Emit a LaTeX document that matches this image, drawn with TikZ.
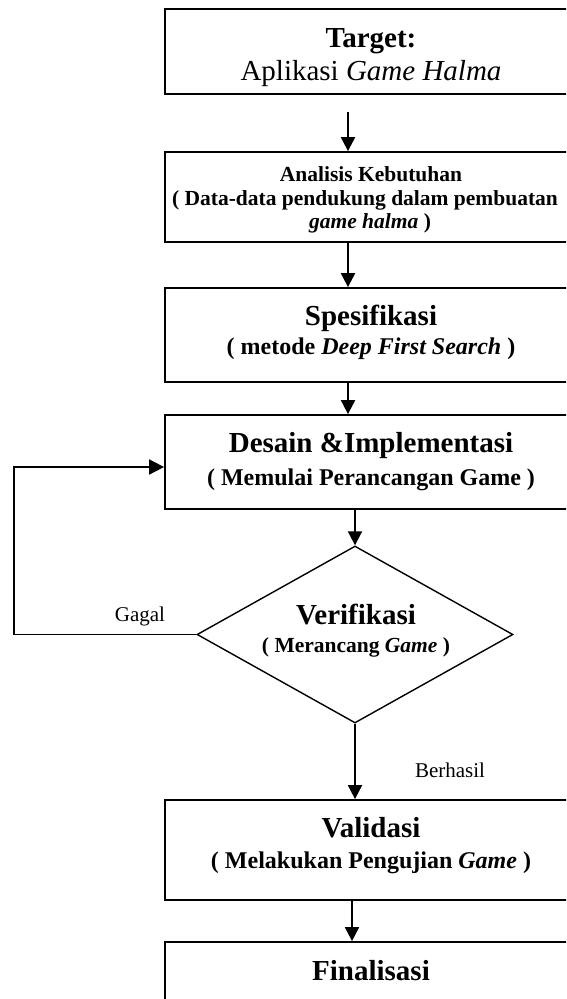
\documentclass[tikz,border=0pt]{standalone}
\usepackage{fontspec}
\setmainfont{Liberation Serif}
\usetikzlibrary{arrows.meta,shapes.geometric}
\begin{document}
\begin{tikzpicture}[x=1pt,y=-1pt,
  boxnode/.style={draw,line width=1.8pt,rectangle,minimum width=412pt,inner sep=0pt},
  dianode/.style={draw,line width=1.4pt,diamond,inner sep=0pt,minimum width=316pt,minimum height=177pt},
  arr/.style={line width=2pt,-{Triangle[length=14pt,width=14pt]}},
  looparr/.style={line width=1.8pt,-{Triangle[length=15pt,width=15pt]}},
  big/.style={anchor=base,font=\fontsize{29}{33}\selectfont\bfseries},
  bigreg/.style={anchor=base,font=\fontsize{29}{33}\selectfont},
  mid/.style={anchor=base,font=\fontsize{24}{28}\selectfont\bfseries},
  small/.style={anchor=base,font=\fontsize{21.5}{24}\selectfont\bfseries},
  lbl/.style={anchor=base,font=\fontsize{21}{24}\selectfont}
]
\useasboundingbox (0,0) rectangle (566,999);
\clip (0,0) rectangle (566,999);

% boxes
\node[boxnode,minimum height=85pt] (b1) at (371,51.5) {};
\node[boxnode,minimum height=90pt] (b2) at (371,197) {};
\node[boxnode,minimum height=94pt] (b3) at (371,335) {};
\node[boxnode,minimum height=94pt] (b4) at (371,462) {};
\node[dianode] (dia) at (355,634.5) {};
\node[boxnode,minimum height=100pt] (b5) at (371,850) {};
\node[boxnode,minimum height=80pt] (b6) at (371,982) {};

% texts
\node[big] (t1a) at (371,47) {Target:};
\node[bigreg] (t1b) at (371,80) {Aplikasi \textit{Game Halma}};
\node[small] (t2a) at (371,181) {Analisis Kebutuhan};
\node[small] (t2b) at (365,205) {( Data-data pendukung dalam pembuatan};
\node[small] (t2c) at (370,228) {\textit{game halma} )};
\node[big] (t3a) at (371,325) {Spesifikasi};
\node[mid] (t3b) at (371,354) {( metode \textit{Deep First Search} )};
\node[big] (t4a) at (371,452) {Desain \&Implementasi};
\node[mid] (t4b) at (371,485) {( Memulai Perancangan Game )};
\node[big] (t5a) at (356,624) {Verifikasi};
\node[small] (t5b) at (356,652) {( Merancang \textit{Game} )};
\node[big] (t6a) at (371,837) {Validasi};
\node[mid] (t6b) at (371,868) {( Melakukan Pengujian \textit{Game} )};
\node[big] (t7a) at (371,980) {Finalisasi};
\node[lbl] (gagal) at (140,621) {Gagal};
\node[lbl] (berhasil) at (450,777) {Berhasil};

% columns for arrows
\coordinate (cA) at (348,0);
\coordinate (cB) at (355,0);
\coordinate (cC) at (352,0);
\coordinate (a1s) at (348,112);
\coordinate (lp) at (14,467);

% connectors
\draw[arr] (a1s) -- (b2.north -| cA);
\draw[arr] (b2.south -| cA) -- (b3.north -| cA);
\draw[arr] (b3.south -| cA) -- (b4.north -| cA);
\draw[arr] (b4.south -| cB) -- (dia.north);
\draw[arr] (dia.south) -- (b5.north -| cB);
\draw[arr] (b5.south -| cC) -- (b6.north -| cC);
\draw[looparr] (dia.west) -| (lp) -- (b4.west |- lp);
\end{tikzpicture}
\end{document}
